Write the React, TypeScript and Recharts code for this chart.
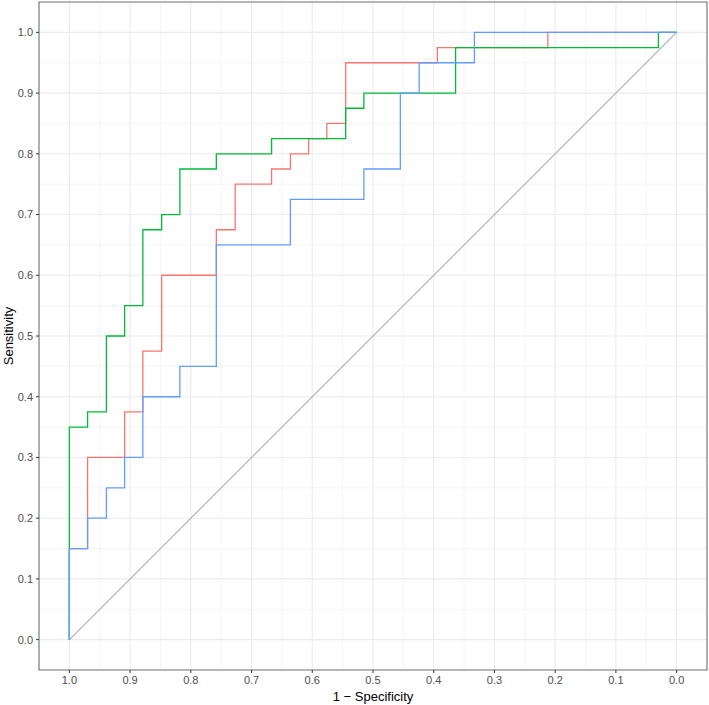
import { CartesianGrid, Label, Line, LineChart, ReferenceArea, XAxis, YAxis } from "recharts"

// ROC corner points (specificity, sensitivity)
const redSpec = [1, 1, 0.97, 0.97, 0.909, 0.909, 0.879, 0.879, 0.848, 0.848, 0.758, 0.758, 0.727, 0.727, 0.667, 0.667, 0.636, 0.636, 0.606, 0.606, 0.576, 0.576, 0.545, 0.545, 0.394, 0.394, 0.212, 0.212, 0];
const redSens = [0, 0.15, 0.15, 0.3, 0.3, 0.375, 0.375, 0.475, 0.475, 0.6, 0.6, 0.675, 0.675, 0.75, 0.75, 0.775, 0.775, 0.8, 0.8, 0.825, 0.825, 0.85, 0.85, 0.95, 0.95, 0.975, 0.975, 1, 1];

const greenSpec = [1, 1, 0.97, 0.97, 0.939, 0.939, 0.909, 0.909, 0.879, 0.879, 0.848, 0.848, 0.818, 0.818, 0.758, 0.758, 0.667, 0.667, 0.545, 0.545, 0.515, 0.515, 0.364, 0.364, 0.03, 0.03, 0];
const greenSens = [0, 0.35, 0.35, 0.375, 0.375, 0.5, 0.5, 0.55, 0.55, 0.675, 0.675, 0.7, 0.7, 0.775, 0.775, 0.8, 0.8, 0.825, 0.825, 0.875, 0.875, 0.9, 0.9, 0.975, 0.975, 1, 1];

const blueSpec = [1, 1, 0.97, 0.97, 0.939, 0.939, 0.909, 0.909, 0.879, 0.879, 0.818, 0.818, 0.758, 0.758, 0.636, 0.636, 0.515, 0.515, 0.455, 0.455, 0.424, 0.424, 0.333, 0.333, 0];
const blueSens = [0, 0.15, 0.15, 0.2, 0.2, 0.25, 0.25, 0.3, 0.3, 0.4, 0.4, 0.45, 0.45, 0.65, 0.65, 0.725, 0.725, 0.775, 0.775, 0.9, 0.9, 0.95, 0.95, 1, 1];

const diagSpec = [1, 0];
const diagSens = [0, 1];

const majorTicks = [0, 0.1, 0.2, 0.3, 0.4, 0.5, 0.6, 0.7, 0.8, 0.9, 1];
const minorTicks = [0.05, 0.15, 0.25, 0.35, 0.45, 0.55, 0.65, 0.75, 0.85, 0.95];

const toPoints = (xs: number[], ys: number[]) => xs.map((x, i) => ({ x, y: ys[i] }));

const FONT = "'Liberation Sans', Arial, Helvetica, sans-serif";
const tickStyle = { fill: "#4D4D4D", fontSize: 11, fontFamily: FONT };

export default function App() {
    const W = 709;
    const H = 705;
    return (
        <div style={{ position: "absolute", left: 0, top: 0, background: "#fff" }}>
            <LineChart width={W} height={H} margin={{ top: 2, right: 2, left: 0, bottom: 0 }}>
                <CartesianGrid stroke="#F3F3F3" strokeWidth={0.8}
                    horizontalValues={minorTicks} verticalValues={minorTicks} />
                <CartesianGrid stroke="#EBEBEB" strokeWidth={1.1}
                    horizontalValues={majorTicks} verticalValues={majorTicks} />
                <XAxis type="number" dataKey="x" domain={[-0.05, 1.05]} reversed allowDataOverflow
                    ticks={majorTicks} tickFormatter={(v: number) => v.toFixed(1)}
                    height={35} tickSize={3} tickMargin={3} axisLine={false}
                    tickLine={{ stroke: "#333" }} tick={tickStyle}>
                    <Label content={() => (
                        <text x={373} y={701} textAnchor="middle" fontSize={13} fontFamily={FONT} fill="#000">1 − Specificity</text>
                    )} />
                </XAxis>
                <YAxis type="number" domain={[-0.05, 1.05]} allowDataOverflow
                    ticks={majorTicks} tickFormatter={(v: number) => v.toFixed(1)}
                    width={39} tickSize={3} tickMargin={3} axisLine={false}
                    tickLine={{ stroke: "#333" }} tick={tickStyle}>
                    <Label content={() => (
                        <text x={13} y={336} transform="rotate(-90 13 336)" textAnchor="middle" fontSize={13} fontFamily={FONT} fill="#000">Sensitivity</text>
                    )} />
                </YAxis>
                <Line data={toPoints(diagSpec, diagSens)} dataKey="y" type="linear" stroke="#BDBDBD" strokeWidth={1.4}
                    dot={false} activeDot={false} isAnimationActive={false} />
                <Line data={toPoints(redSpec, redSens)} dataKey="y" type="linear" stroke="#F8766D" strokeWidth={1.3}
                    dot={false} activeDot={false} isAnimationActive={false} />
                <Line data={toPoints(greenSpec, greenSens)} dataKey="y" type="linear" stroke="#00BA38" strokeWidth={1.3}
                    dot={false} activeDot={false} isAnimationActive={false} />
                <Line data={toPoints(blueSpec, blueSens)} dataKey="y" type="linear" stroke="#619CFF" strokeWidth={1.3}
                    dot={false} activeDot={false} isAnimationActive={false} />
                <ReferenceArea x1={-0.05} x2={1.05} y1={-0.05} y2={1.05} fill="none" fillOpacity={0}
                    stroke="#6E6E6E" strokeWidth={1.1} ifOverflow="visible" />
            </LineChart>
        </div>
    );
}
